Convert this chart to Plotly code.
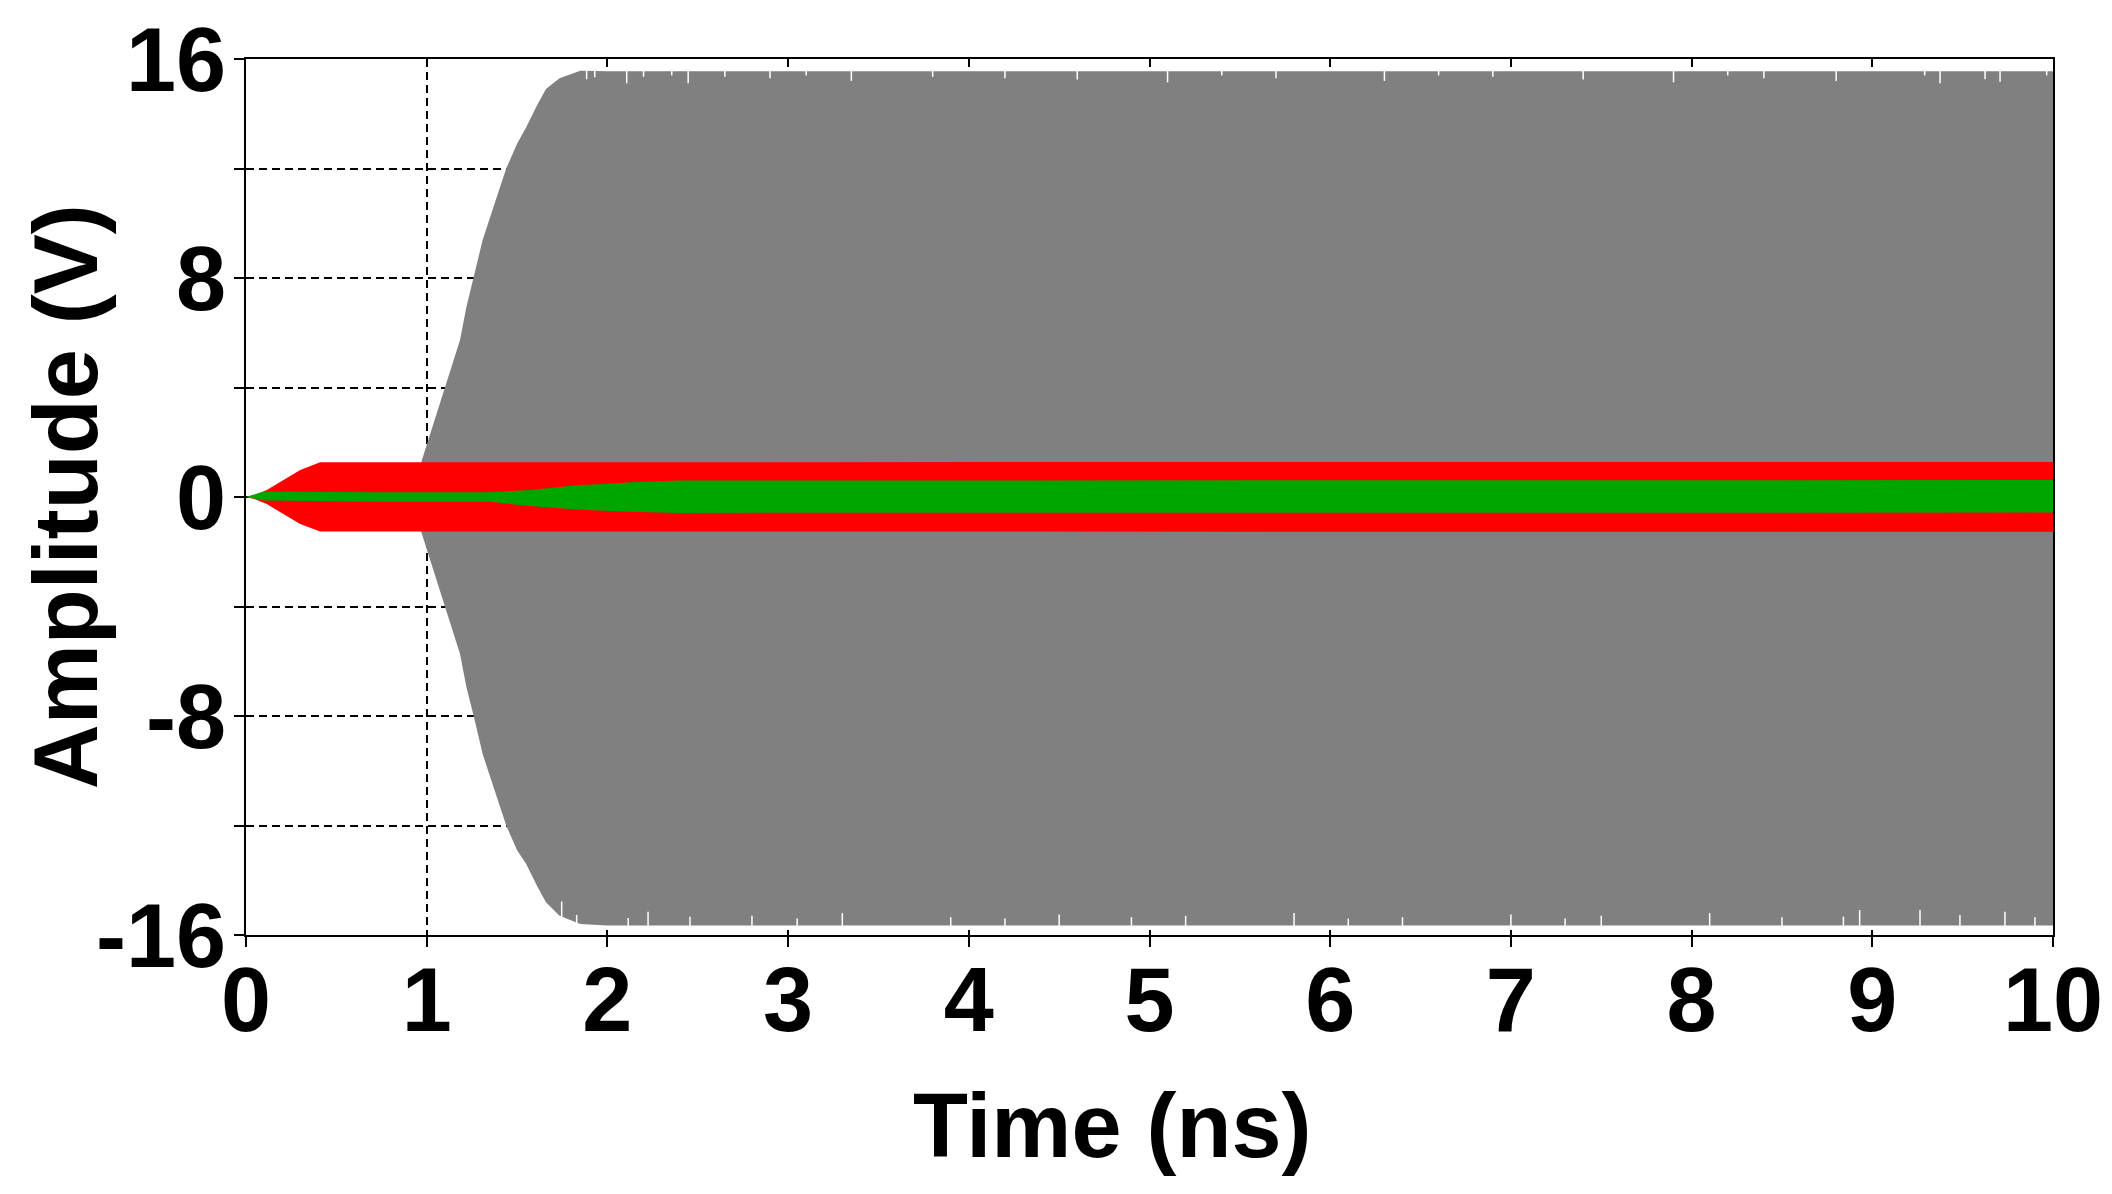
import plotly.graph_objects as go

# ---------------- data ----------------
# Grey signal envelope (V) vs time (ns)
grey_t = [0.97, 1.0, 1.046, 1.10, 1.184, 1.22, 1.26, 1.31, 1.37, 1.44, 1.50, 1.55,
          1.61, 1.66, 1.735, 1.85, 2.0, 3.0, 4.0, 5.0, 6.0, 7.0, 8.0, 9.0, 10.0]
grey_top = [1.28, 1.9, 2.8, 4.0, 5.73, 6.95, 8.0, 9.4, 10.6, 12.0, 12.9, 13.5,
            14.3, 14.9, 15.3, 15.57, 15.55, 15.55, 15.55, 15.55, 15.55, 15.55, 15.55, 15.55, 15.55]
grey_bot = [-1.28, -1.9, -2.8, -4.0, -5.73, -6.95, -8.0, -9.4, -10.6, -12.0, -12.9, -13.4,
            -14.2, -14.8, -15.3, -15.6, -15.65, -15.65, -15.65, -15.65, -15.65, -15.65, -15.65, -15.65, -15.65]

# Dropout spikes on the grey envelope edges (time ns, tip V)
spk_top_t = [1.885, 1.93, 2.107, 2.2, 2.356, 2.447, 2.65, 2.9, 3.1, 3.35, 3.8, 4.2, 4.6, 5.1,
             5.4, 5.7, 6.3, 6.6, 6.9, 7.4, 7.9, 8.2, 8.4, 8.8, 9.29, 9.375, 9.624, 9.707, 9.965]
spk_top_v = [15.26, 15.33, 15.11, 15.35, 15.4, 15.11, 15.35, 15.3, 15.4, 15.2, 15.35, 15.3, 15.25, 15.15,
             15.4, 15.3, 15.2, 15.4, 15.35, 15.25, 15.15, 15.4, 15.3, 15.2, 15.4, 15.11, 15.26, 15.17, 15.4]
spk_bot_t = [1.747, 1.83, 2.115, 2.225, 2.457, 2.8, 3.05, 3.3, 3.9, 4.2, 4.5, 4.9, 5.2, 5.8,
             6.1, 6.4, 7.0, 7.3, 7.5, 8.1, 8.5, 8.84, 8.93, 9.264, 9.485, 9.734, 9.9]
spk_bot_v = [-14.78, -15.27, -15.38, -15.15, -15.33, -15.3, -15.4, -15.2, -15.35, -15.4, -15.25, -15.35,
             -15.3, -15.2, -15.4, -15.35, -15.25, -15.4, -15.3, -15.2, -15.35, -15.33, -15.09, -15.09,
             -15.27, -15.15, -15.35]

# Red signal envelope
red_t = [0.0, 0.05, 0.115, 0.207, 0.30, 0.41, 10.0]
red_top = [0.0, 0.08, 0.26, 0.62, 0.99, 1.27, 1.28]
red_bot = [0.0, -0.08, -0.26, -0.62, -0.99, -1.26, -1.27]

# Green signal envelope
green_t = [0.0, 0.1, 0.74, 1.35, 1.57, 1.85, 1.96, 2.125, 2.4, 2.51, 5.0, 10.0]
green_top = [0.0, 0.2, 0.17, 0.17, 0.26, 0.44, 0.47, 0.54, 0.6, 0.6, 0.61, 0.62]
green_bot = [0.0, -0.13, -0.17, -0.17, -0.33, -0.47, -0.5, -0.54, -0.58, -0.6, -0.58, -0.57]

x_ticks = list(range(0, 11))
y_ticks = [-16, -12, -8, -4, 0, 4, 8, 12, 16]
y_ticktext = ["-16", "", "-8", "", "0", "", "8", "", "16"]

GREY = "#808080"
RED = "#ff0000"
GREEN = "#00a600"
FONT = "Liberation Sans, Arial, sans-serif"


def band(t, top, bot, color):
    return go.Scatter(
        x=list(t) + list(t)[::-1],
        y=list(top) + list(bot)[::-1],
        fill="toself", fillcolor=color, mode="lines",
        line=dict(width=0, color=color), hoverinfo="skip", showlegend=False,
    )


def spikes(t, tips, edge):
    xs, ys = [], []
    for ti, v in zip(t, tips):
        xs += [ti, ti, None]
        ys += [edge, v, None]
    return go.Scatter(x=xs, y=ys, mode="lines", line=dict(color="white", width=1.5),
                      hoverinfo="skip", showlegend=False)


fig = go.Figure()
fig.add_trace(band(grey_t, grey_top, grey_bot, GREY))
fig.add_trace(spikes(spk_top_t, spk_top_v, 15.6))
fig.add_trace(spikes(spk_bot_t, spk_bot_v, -15.7))
fig.add_trace(band(red_t, red_top, red_bot, RED))
fig.add_trace(band(green_t, green_top, green_bot, GREEN))

axis_common = dict(
    showline=True, linecolor="black", linewidth=2, mirror=True,
    ticks="outside", ticklen=10, tickwidth=2, tickcolor="black",
    showgrid=True, gridcolor="black", gridwidth=2, griddash="8px,5px",
    zeroline=False, layer="below traces", automargin=False,
    tickfont=dict(family=FONT, size=90, color="black", weight="bold"),
)

fig.update_xaxes(range=[0, 10], tickmode="array", tickvals=x_ticks,
                 ticktext=[str(v) for v in x_ticks], ticklabelstandoff=-24,
                 **axis_common)
fig.update_yaxes(range=[-16, 16], tickmode="array", tickvals=y_ticks,
                 ticktext=y_ticktext, ticklabelstandoff=-10, **axis_common)

fig.update_layout(
    width=2112, height=1194,
    margin=dict(l=246, r=59, t=59, b=259, autoexpand=False),
    paper_bgcolor="white", plot_bgcolor="white",
    showlegend=False,
    annotations=[
        dict(text="Time (ns)", xref="paper", yref="paper", x=0.479, y=-0.218,
             xanchor="center", yanchor="middle", showarrow=False,
             font=dict(family=FONT, size=90, color="black", weight="bold")),
        dict(text="Amplitude (V)", xref="paper", yref="paper", x=-0.0995, y=0.5,
             xanchor="center", yanchor="middle", textangle=-90, showarrow=False,
             font=dict(family=FONT, size=90, color="black", weight="bold")),
    ],
)

fig.write_html(
    "out.html",
    config={"displayModeBar": False},
    post_script="document.body.style.margin='0';document.body.style.overflow='hidden';",
)
